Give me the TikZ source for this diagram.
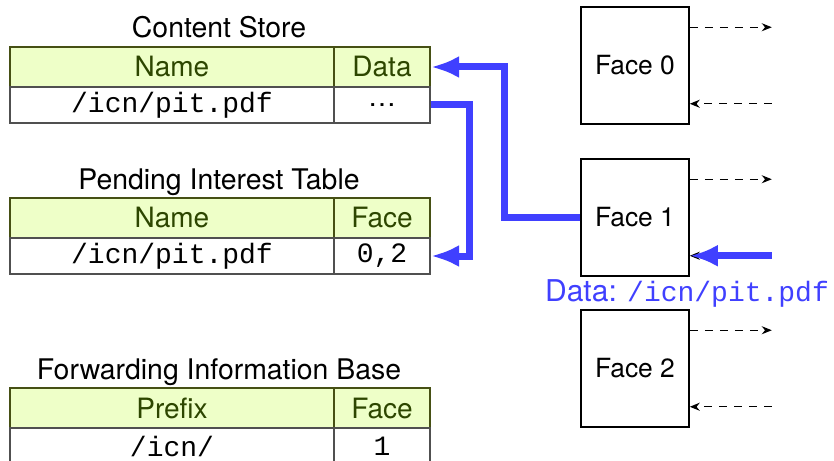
\documentclass[tikz,border=0pt]{standalone}
\usepackage{fontspec}
\setmainfont{TeX Gyre Heros}
\setmonofont{Liberation Mono}
\usetikzlibrary{arrows.meta}

\definecolor{hdrfill}{RGB}{238,255,200}
\definecolor{hdrline}{RGB}{70,80,20}
\definecolor{hdrtext}{RGB}{45,70,0}
\definecolor{rowline}{RGB}{80,80,80}
\definecolor{netblue}{RGB}{64,64,255}

\begin{document}
\begin{tikzpicture}[x = 0.5pt, y = -0.5pt,
	head/.style = {draw = hdrline, fill = hdrfill, text = hdrtext, line width = 1pt, minimum height = 20pt, inner sep = 0pt, anchor = north west, font = \fontsize{14}{16}\selectfont},
	cell/.style = {draw = rowline, fill = white, line width = 1pt, minimum height = 18pt, inner sep = 0pt, anchor = north west, font = \fontsize{14}{16}\selectfont\ttfamily},
	wide/.style = {minimum width = 162pt},
	narrow/.style = {minimum width = 48pt},
	title/.style = {anchor = base, inner sep = 0pt, font = \fontsize{14.2}{16}\selectfont},
	face/.style = {draw, line width = 0.75pt, minimum width = 54pt, minimum height = 58.5pt, font = \fontsize{13.2}{15}\selectfont},
	link/.style = {dash pattern = on 4pt off 3.5pt, line width = 0.6pt, -{Stealth[length = 5pt, width = 4pt]}},
	data/.style = {netblue, line width = 3.5pt, -{Latex[length = 14pt, width = 11pt]}}]
	
	\useasboundingbox (0, 0) rectangle (834, 460);
	
	% Content store
	
	\node [title] (cstitle) at (219, 38) {Content Store};
	\node [head, wide] (csname) at (9, 46) {Name};
	\node [head, narrow] (csdata) at (333, 46) {Data};
	\node [cell, wide] (csrowname) at (9, 86) {/icn/pit.pdf};
	\node [cell, narrow, font = \fontsize{14}{16}\selectfont] (csrowdata) at (333, 86) {\ldots};
	
	% Pending interest table
	
	\node [title] (pittitle) at (219, 189) {Pending Interest Table};
	\node [head, wide] (pitname) at (9, 197) {Name};
	\node [head, narrow] (pitface) at (333, 197) {Face};
	\node [cell, wide] (pitrowname) at (9, 237) {/icn/pit.pdf};
	\node [cell, narrow] (pitrowface) at (333, 237) {0,2};
	
	% Forwarding information base
	
	\node [title] (fibtitle) at (219, 379) {Forwarding Information Base};
	\node [head, wide] (fibprefix) at (9, 387) {Prefix};
	\node [head, narrow] (fibface) at (333, 387) {Face};
	\node [cell, wide] (fibrowprefix) at (9, 427) {/icn/};
	\node [cell, narrow] (fibrowface) at (333, 427) {1};
	
	% Faces w links
	
	\node [face] (f0) at (635, 65.5) {Face 0};
	\node [face] (f1) at (635, 217.5) {Face 1};
	\node [face] (f2) at (635, 368.5) {Face 2};
	
	\foreach \f in {f0, f1, f2}
	{
		\draw [link] ([yshift = -10.5pt]\f.north east) -- +(41pt, 0);
		\draw [link] ([shift = {(41pt, 10.5pt)}]\f.south east) -- ([yshift = 10.5pt]\f.south east);
	}
	
	% Data packet path
	
	\coordinate (incoming) at ([shift = {(41pt, 10.5pt)}]f1.south east);
	\draw [data] (incoming) -- ([yshift = 10.5pt]f1.south east);
	\node [anchor = base, inner sep = 0pt, text = netblue, font = \fontsize{14}{16}\selectfont] (datalabel) at (687, 301) {{\fontsize{15}{16}\selectfont Data:} \texttt{/icn/pit.pdf}};
	
	\draw [data] (f1.west) -- ++(-38pt, 0) |- (csdata.east);
	\draw [data] (csrowdata.east) -- ++(19pt, 0) |- (pitrowface.east);
	
\end{tikzpicture}
\end{document}
